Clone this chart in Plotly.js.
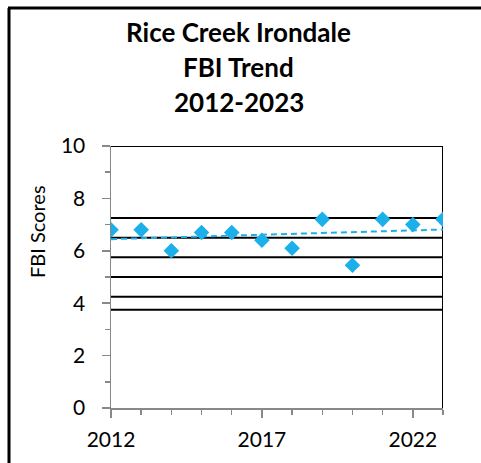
<!DOCTYPE html>
<html>
<head>
<meta charset="utf-8">
<script src="https://cdn.plot.ly/plotly-3.0.1.min.js"></script>
<style>html,body{margin:0;padding:0;background:#fff;}#chart{width:481px;height:463px;}</style>
</head>
<body>
<div id="chart"></div>
<script>
const years = [2012, 2013, 2014, 2015, 2016, 2017, 2018, 2019, 2020, 2021, 2022, 2023];
const fbiScores = [6.8, 6.8, 6.0, 6.7, 6.7, 6.4, 6.1, 7.2, 5.45, 7.2, 7.0, 7.2];
const thresholds = [7.25, 6.5, 5.75, 5.0, 4.25, 3.75];
const yTicks = [0, 2, 4, 6, 8, 10];
const xTicks = [2012, 2017, 2022];
const titleLines = ['Rice Creek Irondale', 'FBI Trend', '2012-2023'];
const yAxisTitle = 'FBI Scores';

// linear trendline (least squares)
const n = years.length;
const mx = years.reduce((a, b) => a + b, 0) / n;
const my = fbiScores.reduce((a, b) => a + b, 0) / n;
let sxy = 0, sxx = 0;
for (let i = 0; i < n; i++) { sxy += (years[i] - mx) * (fbiScores[i] - my); sxx += (years[i] - mx) ** 2; }
const slope = sxy / sxx, icpt = my - slope * mx;
const trendX = [years[0], years[n - 1]];
const trendY = trendX.map(x => icpt + slope * x);

const blue = '#1CB0EA';
const font = 'Lato, "Open Sans", sans-serif';

const shapes = thresholds.map(v => ({
  type: 'line', xref: 'x', yref: 'y', x0: 2012, x1: 2023, y0: v, y1: v,
  line: {color: '#000', width: 2}, layer: 'below'
}));
shapes.push({type: 'line', xref: 'x', yref: 'y', x0: 2012, x1: 2023, y0: 10, y1: 10, line: {color: '#000', width: 2}, layer: 'below'});
shapes.push({type: 'line', xref: 'x', yref: 'y', x0: 2023, x1: 2023, y0: 0, y1: 10, line: {color: '#000', width: 2}, layer: 'below'});
// outer frame
shapes.push({type: 'line', xref: 'paper', yref: 'paper', x0: -103/332, x1: 370/332, y0: 1 + 138/262, y1: 1 + 138/262, line: {color: '#000', width: 3}});
shapes.push({type: 'line', xref: 'paper', yref: 'paper', x0: -102/332, x1: -102/332, y0: 1 + 138/262, y1: -60/262, line: {color: '#000', width: 3}});

const titleY = [32, 67, 102];
const annotations = titleLines.map((t, i) => ({
  text: '<b>' + t + '</b>', xref: 'paper', yref: 'paper',
  x: (238.5 - 111) / 332, y: 1 + (146 - titleY[i]) / 262,
  xanchor: 'center', yanchor: 'middle', showarrow: false,
  font: {family: font, size: 26, color: '#000'}
}));
annotations.push({
  text: yAxisTitle, xref: 'paper', yref: 'paper',
  x: (37 - 111) / 332, y: (408 - 232) / 262, textangle: -90,
  xanchor: 'center', yanchor: 'middle', showarrow: false,
  font: {family: font, size: 20, color: '#000'}
});

const data = [
  {x: trendX, y: trendY, mode: 'lines', line: {color: blue, width: 2, dash: '6px,4px'}, hoverinfo: 'skip', showlegend: false},
  {x: years, y: fbiScores, mode: 'markers', marker: {symbol: 'diamond', size: 12, color: blue}, showlegend: false}
];

const layout = {
  width: 481, height: 463,
  margin: {l: 111, r: 38, t: 146, b: 55},
  paper_bgcolor: '#fff', plot_bgcolor: '#fff',
  font: {family: font, color: '#000'},
  xaxis: {
    range: [2012, 2023], tickvals: xTicks, ticktext: xTicks.map(String),
    ticks: 'outside', ticklen: 8, tickwidth: 1.5, tickcolor: '#888',
    minor: {dtick: 1, tick0: 2012, ticks: 'outside', ticklen: 5, tickwidth: 1.5, tickcolor: '#888'},
    showline: true, linecolor: '#888', linewidth: 1.5, showgrid: false, zeroline: false,
    tickfont: {family: font, size: 21, color: '#000'}, ticklabelstandoff: 4, fixedrange: true
  },
  yaxis: {
    range: [0, 10], tickvals: yTicks, ticks: 'outside', ticklen: 8, tickwidth: 1.5, tickcolor: '#888',
    minor: {dtick: 1, tick0: 0, ticks: 'outside', ticklen: 5, tickwidth: 1.5, tickcolor: '#888'},
    showline: true, linecolor: '#888', linewidth: 1.5, showgrid: false, zeroline: false,
    tickfont: {family: font, size: 21, color: '#000'}, ticklabelstandoff: 12,
    fixedrange: true
  },
  shapes: shapes,
  annotations: annotations
};

Plotly.newPlot('chart', data, layout, {displayModeBar: false, staticPlot: true});
</script>
</body>
</html>
